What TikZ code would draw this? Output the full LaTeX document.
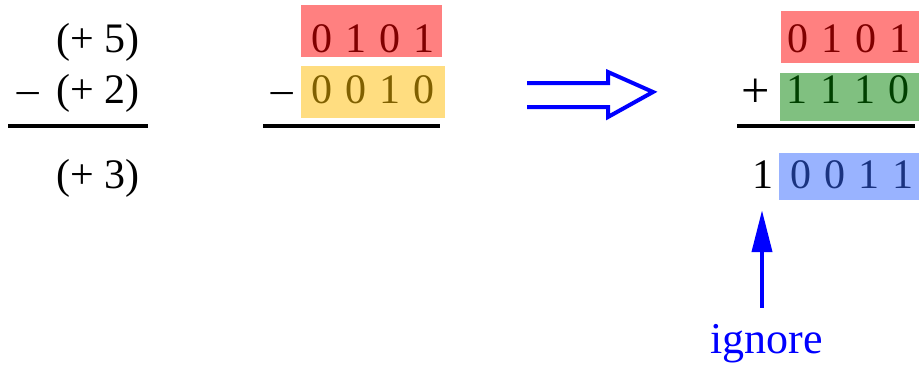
\documentclass[tikz,border=0pt]{standalone}
\usepackage{fontspec}
\setmainfont{Liberation Serif}
\usetikzlibrary{arrows.meta}
\definecolor{redbox}{RGB}{255,128,128}
\definecolor{redtxt}{RGB}{128,0,0}
\definecolor{yelbox}{RGB}{255,221,128}
\definecolor{yeltxt}{RGB}{128,96,0}
\definecolor{grnbox}{RGB}{128,192,128}
\definecolor{grntxt}{RGB}{0,64,0}
\definecolor{blubox}{RGB}{153,179,255}
\definecolor{blutxt}{RGB}{26,51,128}
\newcommand\gapB{\hspace{13pt}}
\newcommand\wideminus{\scalebox{1.15}[1]{−}}
\newcommand\wideplus{\scalebox{1.2}{+}}
\begin{document}
\begin{tikzpicture}[x=1pt,y=-1pt,
  txt/.style={inner sep=0pt, font=\fontsize{42pt}{50pt}\selectfont},
  bitbox/.style={inner sep=0pt, anchor=north west},
  rule/.style={line width=4pt},
  bluearrow/.style={blue, line width=4pt}]
\useasboundingbox (0,0) rectangle (919,367);
% left column
\node[txt, anchor=base east] (p5) at (139.5,52) {(+ 5)};
\node[txt, anchor=base west] (lm) at (14,107.5) {\wideminus};
\node[txt, anchor=base east] (p2) at (139.5,103) {(+ 2)};
\draw[rule] (8,126) -- (148,126);
\node[txt, anchor=base east] (p3) at (139.5,188) {(+ 3)};
% middle column
\node[bitbox, fill=redbox, minimum width=141pt, minimum height=52pt] (mrb) at (301,5) {};
\node[bitbox, fill=yelbox, minimum width=144pt, minimum height=52pt] (myb) at (301,66) {};
\node[txt, anchor=base west, text=redtxt] (mrt) at (311,52) {0\gapB1\gapB0\gapB1};
\node[txt, anchor=base west, text=yeltxt] (myt) at (311,103) {0\gapB0\gapB1\gapB0};
\node[txt, anchor=base west] (mm) at (268,107.5) {\wideminus};
\draw[rule] (263,126) -- (440,126);
% double arrow
\draw[bluearrow] (527,83) -- (608,83) -- (608,72) -- (653,92) -- (608,117) -- (608,107) -- (527,107);
% right column
\node[bitbox, fill=redbox, minimum width=138pt, minimum height=52pt] (rrb) at (781,11) {};
\node[bitbox, fill=grnbox, minimum width=139pt, minimum height=48pt] (rgb) at (780,73) {};
\node[bitbox, fill=blubox, minimum width=140pt, minimum height=47pt] (rbb) at (779,153) {};
\node[txt, anchor=base west, text=redtxt] (rrt) at (787,52) {0\gapB1\gapB0\gapB1};
\node[txt, anchor=base west, text=grntxt] (rgt) at (786,103) {1\gapB1\gapB1\gapB0};
\node[txt, anchor=base west, text=blutxt] (rbt) at (790,188) {0\gapB0\gapB1\gapB1};
\node[txt, anchor=base west] (rp) at (741,107.5) {\wideplus};
\draw[rule] (737,126) -- (915,126);
\node[txt, anchor=base west] (one) at (752.5,188) {1};
\node[inner sep=0pt, font=\fontsize{44pt}{52pt}\selectfont, text=blue, anchor=base] (ignore) at (766.5,353) {ignore};
\coordinate (ax) at (762,0);
\draw[bluearrow, -{Triangle[length=42pt,width=20pt]}] ([yshift=16pt]ignore.north -| ax) -- ([yshift=-22pt]one.south -| ax);
\end{tikzpicture}
\end{document}
